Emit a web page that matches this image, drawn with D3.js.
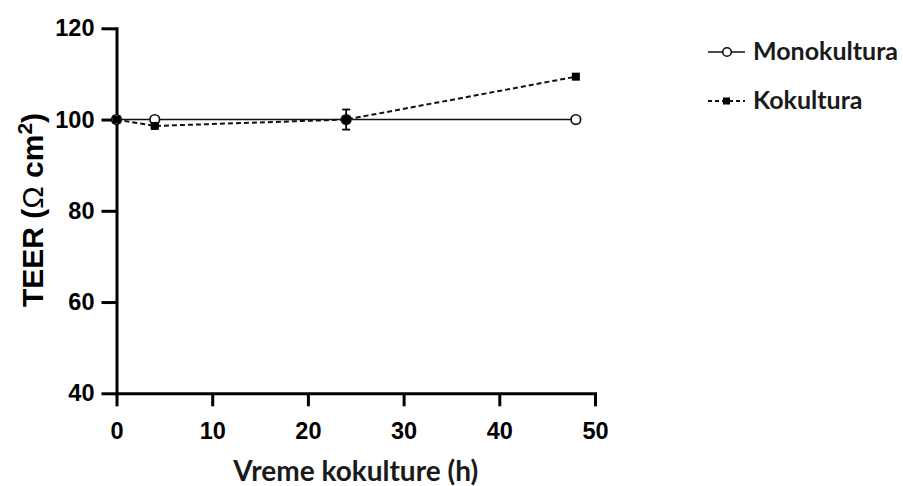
<!DOCTYPE html>
<html>
<head>
<meta charset="utf-8">
<script src="https://cdn.jsdelivr.net/npm/d3@7"></script>
<style>
  html, body { margin: 0; padding: 0; background: #fff; }
  svg { display: block; }
</style>
</head>
<body>
<div id="chart"></div>
<script>
// ---- data ----
const hours = [0, 4, 24, 48];
const monoValues = [100, 100, 100, 100];
const monoErrors = [0, 0, 0.5, 0];
const kokoValues = [100, 98.6, 100, 109.4];
const kokoErrors = [0, 0.4, 2.2, 0];
const xTicks = [0, 10, 20, 30, 40, 50];
const yTicks = [40, 60, 80, 100, 120];
const seriesNames = ["Monokultura", "Kokultura"];
const xTitle = "Vreme kokulture (h)";

const W = 903, H = 486;
const svg = d3.select("#chart").append("svg").attr("width", W).attr("height", H);

const x = d3.scaleLinear().domain([0, 50]).range([116.5, 595]);
const y = d3.scaleLinear().domain([40, 120]).range([393.3, 28.3]);

const tickFont = "'Liberation Sans', Arial, sans-serif";
const titleFont = "Lato, 'Open Sans', sans-serif";

// Y axis
const gy = svg.append("g").attr("transform", `translate(${x(0)},0)`)
  .call(d3.axisLeft(y).tickValues(yTicks).tickFormat(d3.format("d")).tickSize(15).tickSizeOuter(0).tickPadding(7));
// X axis
const gx = svg.append("g").attr("transform", `translate(0,${y(40)})`)
  .call(d3.axisBottom(x).tickValues(xTicks).tickFormat(d3.format("d")).tickSize(13).tickSizeOuter(0).tickPadding(16));

[gx, gy].forEach(g => {
  g.select(".domain").attr("stroke", "#000").attr("stroke-width", 3).attr("stroke-linecap", "square");
  g.selectAll(".tick line").attr("stroke", "#000").attr("stroke-width", 3);
  g.selectAll(".tick text").attr("fill", "#000").attr("font-family", tickFont)
    .attr("font-weight", "bold").attr("font-size", 23.5);
});

// Y title
svg.append("text")
  .attr("transform", `translate(43,${210}) rotate(-90)`)
  .attr("text-anchor", "middle")
  .attr("font-family", tickFont).attr("font-weight", "bold").attr("font-size", 30)
  .attr("fill", "#000")
  .html('TEER (<tspan font-weight="normal">Ω</tspan> cm<tspan dy="-11" font-size="21">2</tspan><tspan dy="11">)</tspan>');

// X title
svg.append("text")
  .attr("x", (x(0) + x(50)) / 2).attr("y", 481)
  .attr("text-anchor", "middle")
  .attr("font-family", titleFont).attr("font-weight", "bold").attr("font-size", 28)
  .attr("fill", "#1a1a1a").text(xTitle);

// series
const mono = hours.map((h, i) => ({ h, v: monoValues[i], e: monoErrors[i] }));
const koko = hours.map((h, i) => ({ h, v: kokoValues[i], e: kokoErrors[i] }));
const line = d3.line().x(d => x(d.h)).y(d => y(d.v));

function errorBars(data) {
  const g = svg.append("g").attr("stroke", "#000").attr("stroke-width", 1.8);
  data.filter(d => d.e > 0).forEach(d => {
    g.append("line").attr("x1", x(d.h)).attr("x2", x(d.h)).attr("y1", y(d.v - d.e)).attr("y2", y(d.v + d.e));
    [d.v - d.e, d.v + d.e].forEach(v => {
      g.append("line").attr("x1", x(d.h) - 4).attr("x2", x(d.h) + 4).attr("y1", y(v)).attr("y2", y(v));
    });
  });
}

// Monokultura
svg.append("path").datum(mono).attr("d", line).attr("fill", "none").attr("stroke", "#111").attr("stroke-width", 1.6);
errorBars(mono);
svg.append("g").selectAll("circle").data(mono).join("circle")
  .attr("cx", d => x(d.h)).attr("cy", d => y(d.v)).attr("r", 4.8)
  .attr("fill", "#fff").attr("stroke", "#111").attr("stroke-width", 1.7);

// Kokultura
svg.append("path").datum(koko).attr("d", line).attr("fill", "none").attr("stroke", "#111")
  .attr("stroke-width", 2).attr("stroke-dasharray", "5,3");
errorBars(koko);
svg.append("g").selectAll("rect").data(koko).join("rect")
  .attr("x", d => x(d.h) - 4).attr("y", d => y(d.v) - 4).attr("width", 8).attr("height", 8)
  .attr("fill", "#000");

// Legend
const lg = svg.append("g");
const legY = [52, 101];
lg.append("line").attr("x1", 708).attr("x2", 745).attr("y1", legY[0]).attr("y2", legY[0])
  .attr("stroke", "#111").attr("stroke-width", 1.6);
lg.append("circle").attr("cx", 727).attr("cy", legY[0]).attr("r", 4.3)
  .attr("fill", "#fff").attr("stroke", "#111").attr("stroke-width", 1.6);
lg.append("line").attr("x1", 708).attr("x2", 745).attr("y1", legY[1]).attr("y2", legY[1])
  .attr("stroke", "#111").attr("stroke-width", 2).attr("stroke-dasharray", "4,3");
lg.append("rect").attr("x", 723).attr("y", legY[1] - 3.5).attr("width", 7).attr("height", 7).attr("fill", "#000");
seriesNames.forEach((n, i) => {
  lg.append("text").attr("x", 753).attr("y", legY[i] + 8)
    .attr("font-family", titleFont).attr("font-weight", "bold").attr("font-size", 25)
    .attr("fill", "#1a1a1a").text(n);
});
</script>
</body>
</html>
